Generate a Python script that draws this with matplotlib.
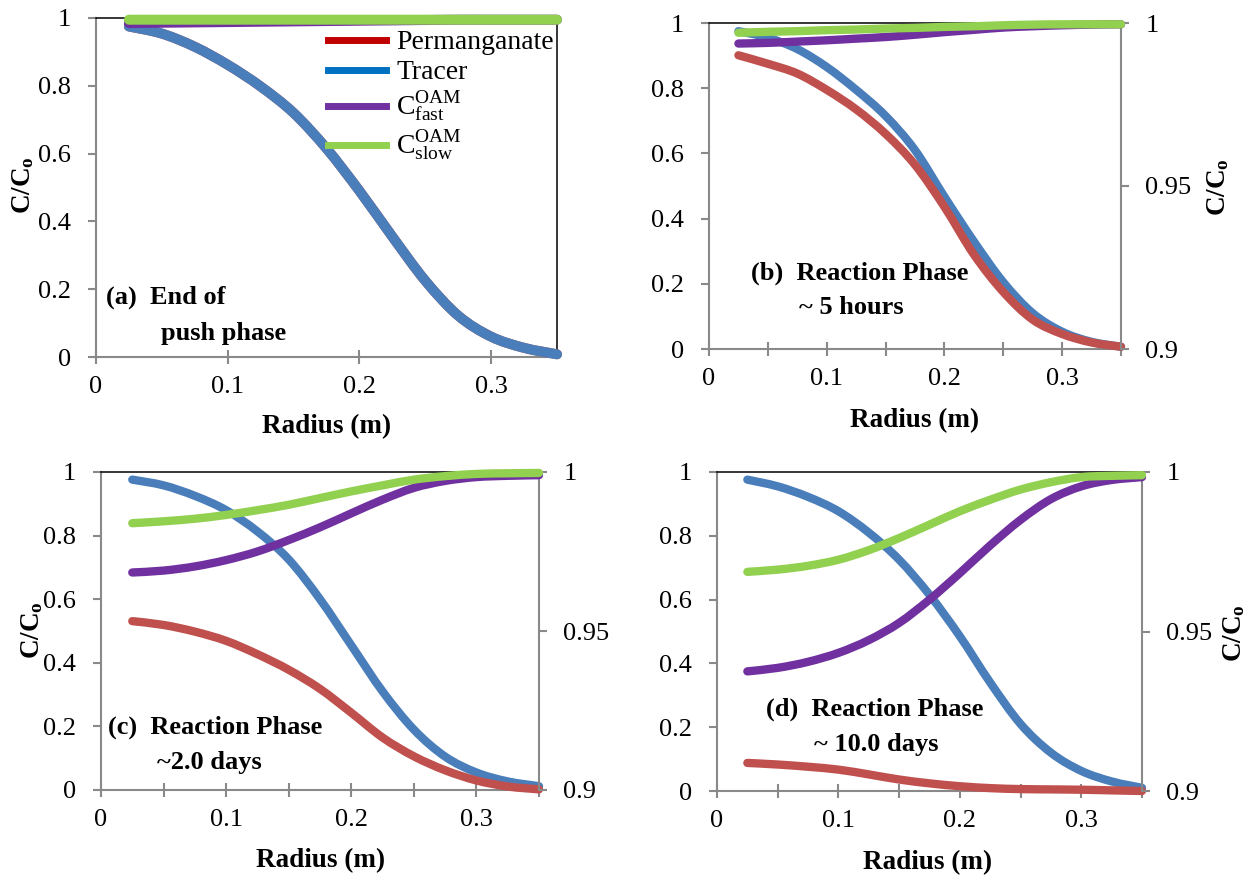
import numpy as np
import matplotlib
matplotlib.use('Agg')
import matplotlib.pyplot as plt
from matplotlib.lines import Line2D
from matplotlib.path import Path
from matplotlib.patches import PathPatch
from matplotlib.ticker import MultipleLocator, FuncFormatter

plt.rcParams['font.family'] = ['Liberation Serif', 'DejaVu Serif']
plt.rcParams['mathtext.fontset'] = 'custom'
plt.rcParams['mathtext.rm'] = 'Liberation Serif'
plt.rcParams['mathtext.it'] = 'Liberation Serif:italic'
plt.rcParams['mathtext.bf'] = 'Liberation Serif:bold'
plt.rcParams['mathtext.default'] = 'regular'

# radius (m)
radius = [0.025, 0.05, 0.075, 0.1, 0.125, 0.15, 0.175, 0.2, 0.225, 0.25, 0.275, 0.3, 0.325, 0.35]

# (a) end of push phase (all on left axis)
a_tracer = [0.975, 0.954, 0.915, 0.862, 0.798, 0.72, 0.615, 0.49, 0.355, 0.225, 0.122, 0.06, 0.027, 0.008]
a_perm = [0.975, 0.954, 0.915, 0.862, 0.798, 0.72, 0.615, 0.49, 0.355, 0.225, 0.122, 0.06, 0.027, 0.008]
a_fast = [0.985, 0.986, 0.987, 0.988, 0.989, 0.990, 0.991, 0.992, 0.993, 0.994, 0.995, 0.995, 0.995, 0.995]
a_slow = [0.995, 0.995, 0.995, 0.995, 0.995, 0.995, 0.995, 0.995, 0.995, 0.995, 0.995, 0.995, 0.995, 0.995]

# (b) reaction phase ~5 hours (fast/slow on right axis)
b_tracer = [0.975, 0.955, 0.92, 0.865, 0.795, 0.715, 0.61, 0.467, 0.33, 0.205, 0.11, 0.053, 0.022, 0.007]
b_perm = [0.901, 0.875, 0.845, 0.795, 0.735, 0.66, 0.565, 0.436, 0.29, 0.175, 0.09, 0.046, 0.02, 0.007]
b_fast = [0.9937, 0.9939, 0.9943, 0.9947, 0.9952, 0.9957, 0.9964, 0.9972, 0.9979, 0.9986, 0.9990, 0.9993, 0.9995, 0.9996]
b_slow = [0.9970, 0.9973, 0.9975, 0.9978, 0.9980, 0.9983, 0.9985, 0.9988, 0.9990, 0.9993, 0.9995, 0.9996, 0.9996, 0.9996]

# (c) reaction phase ~2.0 days
c_tracer = [0.976, 0.958, 0.925, 0.88, 0.813, 0.725, 0.60, 0.455, 0.31, 0.19, 0.105, 0.055, 0.027, 0.012]
c_perm = [0.531, 0.519, 0.498, 0.469, 0.427, 0.378, 0.318, 0.243, 0.165, 0.106, 0.062, 0.03, 0.011, 0.002]
c_fast = [0.9684, 0.9690, 0.9703, 0.9723, 0.9750, 0.9786, 0.9826, 0.9870, 0.9913, 0.9950, 0.9972, 0.9984, 0.9988, 0.9990]
c_slow = [0.9839, 0.9845, 0.9853, 0.9865, 0.9880, 0.9897, 0.9918, 0.9939, 0.9958, 0.9976, 0.9987, 0.9994, 0.9996, 0.9997]

# (d) reaction phase ~10.0 days
d_tracer = [0.976, 0.955, 0.922, 0.877, 0.81, 0.725, 0.615, 0.485, 0.34, 0.21, 0.12, 0.063, 0.03, 0.01]
d_perm = [0.088, 0.083, 0.076, 0.067, 0.052, 0.036, 0.024, 0.015, 0.009, 0.006, 0.005, 0.004, 0.002, 0.0]
d_fast = [0.9375, 0.9386, 0.9405, 0.9433, 0.9473, 0.9527, 0.9600, 0.9683, 0.9770, 0.9850, 0.9915, 0.9955, 0.9975, 0.9984]
d_slow = [0.9687, 0.9694, 0.9706, 0.9725, 0.9755, 0.9793, 0.9835, 0.9877, 0.9913, 0.9945, 0.9968, 0.9984, 0.9988, 0.9990]

red = '#C0504D'
blue = '#4A7EBB'
purple = '#7030A0'
green = '#92D050'
grey = '#898989'

W, H = 1251, 876
fig = plt.figure(figsize=(W / 100, H / 100), dpi=100)


def px_axes(l, t, r, b):
    return fig.add_axes([l / W, 1 - b / H, (r - l) / W, (b - t) / H])


fmt = FuncFormatter(lambda v, p: f'{v:g}')
TICK_FS = 19


def style_left(ax, minor):
    ax.set_xlim(0, 0.35)
    ax.set_ylim(0, 1)
    ax.xaxis.set_major_locator(MultipleLocator(0.1))
    ax.yaxis.set_major_locator(MultipleLocator(0.2))
    ax.xaxis.set_major_formatter(fmt)
    ax.yaxis.set_major_formatter(fmt)
    if minor:
        ax.xaxis.set_minor_locator(MultipleLocator(0.05))
    ax.tick_params(axis='x', which='both', direction='inout', length=10, width=1.5, color=grey,
                   labelsize=TICK_FS, pad=9)
    ax.tick_params(axis='y', direction='out', length=6, width=1.5, color=grey, labelsize=TICK_FS, pad=12)
    for s in ['left', 'bottom']:
        ax.spines[s].set_color(grey)
        ax.spines[s].set_linewidth(1.5)
    ax.spines['top'].set_color('black')
    ax.spines['top'].set_linewidth(1.1)


def add_twin(ax):
    tw = ax.twinx()
    tw.set_ylim(0.9, 1)
    tw.set_yticks([0.9, 0.95, 1])
    tw.yaxis.set_major_formatter(fmt)
    tw.tick_params(axis='y', direction='out', length=6, width=1.5, color=grey, labelsize=TICK_FS, pad=11.5)
    for s in ['left', 'bottom', 'top']:
        tw.spines[s].set_visible(False)
    tw.spines['right'].set_color(grey)
    tw.spines['right'].set_linewidth(1.5)
    ax.spines['right'].set_visible(False)
    return tw


def curve(ax, y, c, lw):
    # Excel-style smoothed line: cubic Bezier segments through the data points
    x = np.asarray(radius, float)
    y = np.asarray(y, float)
    n = len(x)
    verts = [(x[0], y[0])]
    codes = [Path.MOVETO]
    for i in range(n - 1):
        i0, i2 = max(i - 1, 0), min(i + 2, n - 1)
        c1 = (x[i] + (x[i + 1] - x[i0]) / 6, y[i] + (y[i + 1] - y[i0]) / 6)
        c2 = (x[i + 1] - (x[i2] - x[i]) / 6, y[i + 1] - (y[i2] - y[i]) / 6)
        verts += [c1, c2, (x[i + 1], y[i + 1])]
        codes += [Path.CURVE4] * 3
    ax.add_patch(PathPatch(Path(verts, codes), fill=False, edgecolor=c, lw=lw,
                           capstyle='round', joinstyle='round', clip_on=False, zorder=3))


lab_kw = dict(fontsize=19.5, fontweight='bold')
note_kw = dict(fontsize=19, fontweight='bold', va='center')

# (a)
ax_a = px_axes(96, 18, 557, 357)
style_left(ax_a, minor=False)
ax_a.spines['right'].set_color('black')
ax_a.spines['right'].set_linewidth(1.1)
curve(ax_a, a_perm, red, 7.2)
curve(ax_a, a_tracer, blue, 7.2)
curve(ax_a, a_fast, purple, 7.2)
curve(ax_a, a_slow, green, 7.2)
handles = [Line2D([], [], color='#C00000', lw=5),
           Line2D([], [], color='#0070C0', lw=5),
           Line2D([], [], color=purple, lw=5),
           Line2D([], [], color=green, lw=5)]
labels = ['Permanganate', 'Tracer', r'C$^{\mathrm{OAM}}_{\mathrm{fast}}$', r'C$^{\mathrm{OAM}}_{\mathrm{slow}}$']
ax_a.legend(handles, labels, loc='upper left', bbox_to_anchor=(0.503, 0.965), frameon=False,
            fontsize=20, handlelength=2.1, handletextpad=0.36, labelspacing=0.17,
            borderpad=0, borderaxespad=0)

# (b)
ax_b = px_axes(709, 23, 1121, 349)
style_left(ax_b, minor=True)
curve(ax_b, b_tracer, blue, 6)
curve(ax_b, b_perm, red, 6)
tw_b = add_twin(ax_b)
curve(tw_b, b_fast, purple, 6)
curve(tw_b, b_slow, green, 6)

# (c)
ax_c = px_axes(101, 472, 539, 790)
style_left(ax_c, minor=True)
curve(ax_c, c_tracer, blue, 6)
curve(ax_c, c_perm, red, 6)
tw_c = add_twin(ax_c)
curve(tw_c, c_fast, purple, 6)
curve(tw_c, c_slow, green, 6)

# (d)
ax_d = px_axes(717, 472, 1142, 791)
style_left(ax_d, minor=True)
curve(ax_d, d_tracer, blue, 6)
curve(ax_d, d_perm, red, 6)
tw_d = add_twin(ax_d)
curve(tw_d, d_fast, purple, 6)
curve(tw_d, d_slow, green, 6)


# axis labels
def ftext(x, y, s, **kw):
    fig.text(x / W, 1 - y / H, s, **kw)


ylab = r'C/C$_{\mathbf{o}}$'
ftext(23, 185, ylab, rotation=90, ha='center', va='center', **lab_kw)
ftext(1218, 187, ylab, rotation=90, ha='center', va='center', **lab_kw)
ftext(32, 630, ylab, rotation=90, ha='center', va='center', **lab_kw)
ftext(1234, 633, ylab, rotation=90, ha='center', va='center', **lab_kw)
ftext(327, 427, 'Radius (m)', ha='center', va='center', **lab_kw)
ftext(915, 421, 'Radius (m)', ha='center', va='center', **lab_kw)
ftext(321, 861, 'Radius (m)', ha='center', va='center', **lab_kw)
ftext(928, 863, 'Radius (m)', ha='center', va='center', **lab_kw)

# panel notes
ftext(106, 297, '(a)  End of', **note_kw)
ftext(161, 333, 'push phase', **note_kw)
ftext(751, 273, '(b)  Reaction Phase', **note_kw)
ftext(799, 308, '~ 5 hours', **note_kw)
ftext(108, 727, '(c)  Reaction Phase', **note_kw)
ftext(157, 763, '~2.0 days', **note_kw)
ftext(766, 709, '(d)  Reaction Phase', **note_kw)
ftext(814, 744, '~ 10.0 days', **note_kw)

fig.savefig('out.png', dpi=100)
